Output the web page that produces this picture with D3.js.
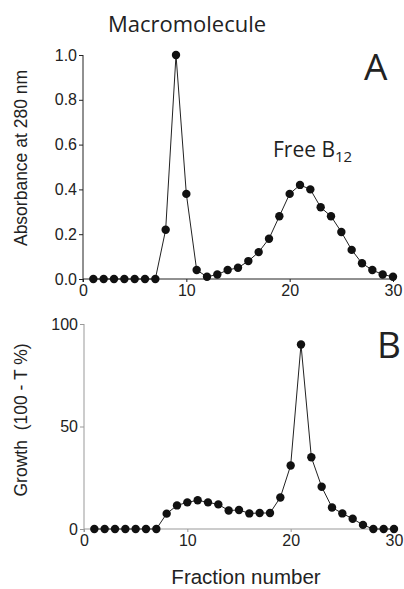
<!DOCTYPE html>
<html>
<head>
<meta charset="utf-8">
<script src="https://cdn.jsdelivr.net/npm/d3@7"></script>
<style>
  body { margin: 0; background: #fff; }
  svg { display: block; }
  .tick text { font-family: "Liberation Sans", Arial, sans-serif; }
</style>
</head>
<body>
<svg id="chart" width="404" height="589"></svg>
<script>
// fraction numbers 1..30
const fractions = [1,2,3,4,5,6,7,8,9,10,11,12,13,14,15,16,17,18,19,20,21,22,23,24,25,26,27,28,29,30];

// Panel A : absorbance at 280 nm
const absorbance = [0,0,0,0,0,0,0,0.22,1.0,0.38,0.04,0.01,0.02,0.04,0.05,0.08,0.12,0.18,0.28,0.38,0.42,0.40,0.32,0.28,0.21,0.13,0.07,0.04,0.02,0.01];

// Panel B : growth (100 - T %)
const growth = [0,0,0,0,0,0,0,7.5,11.5,13,14,13,12,9,9.3,7.6,7.8,7.8,15.4,31,90,35,20.6,10.5,7.6,5,2,0,0,0];

const xTicks = [0,10,20,30];
const yTicksA = [0,0.2,0.4,0.6,0.8,1.0];
const yTicksB = [0,50,100];

const svg = d3.select("#chart");

// draw one panel
function drawPanel(opt) {
  const x = d3.scaleLinear().domain([0,30]).range([opt.left, opt.right]);
  const y = d3.scaleLinear().domain(opt.yDomain).range([opt.bottom, opt.top]);

  const g = svg.append("g");

  // y axis
  const yAxis = g.append("g")
    .attr("transform", `translate(${opt.left},0)`)
    .call(d3.axisLeft(y).tickValues(opt.yTicks).tickFormat(opt.yFormat).tickSize(4).tickPadding(2));
  yAxis.select(".domain").attr("d", `M0,${opt.top}V${opt.bottom + 3}`).attr("stroke", opt.axisColor);
  yAxis.selectAll(".tick line").attr("stroke", opt.axisColor);
  yAxis.selectAll(".tick text").attr("font-size", 16).attr("fill", "#222");

  // x axis
  const xAxis = g.append("g")
    .attr("transform", `translate(0,${opt.bottom})`)
    .call(d3.axisBottom(x).tickValues(xTicks).tickSize(3).tickPadding(3));
  xAxis.select(".domain").attr("d", `M${opt.left},0H${opt.right}`).attr("stroke", opt.axisColor);
  xAxis.selectAll(".tick line").attr("stroke", opt.axisColor);
  xAxis.selectAll(".tick text").attr("font-size", 16).attr("fill", "#222");

  const pts = fractions.map((f, i) => [f, opt.values[i]]);

  g.append("path")
    .datum(pts)
    .attr("fill", "none")
    .attr("stroke", "#222")
    .attr("stroke-width", 1)
    .attr("d", d3.line().x(d => x(d[0])).y(d => y(d[1])));

  g.selectAll("circle")
    .data(pts)
    .join("circle")
    .attr("cx", d => x(d[0]))
    .attr("cy", d => y(d[1]))
    .attr("r", 4.2)
    .attr("fill", "#111");

  // rotated y label
  g.append("text")
    .attr("transform", `translate(27,${opt.labelY}) rotate(-90)`)
    .attr("text-anchor", "middle")
    .attr("font-family", "Liberation Sans, Arial, sans-serif")
    .attr("font-size", 17.5)
    .attr("fill", "#222")
    .attr("xml:space", "preserve")
    .text(opt.yLabel);

  // panel letter
  g.append("text")
    .attr("x", opt.letterX)
    .attr("y", opt.letterY)
    .attr("font-family", "Open Sans, sans-serif")
    .attr("font-size", 37)
    .attr("fill", "#222")
    .text(opt.letter);
}

drawPanel({
  left: 83, right: 393, top: 55, bottom: 279,
  yDomain: [0,1], yTicks: yTicksA, yFormat: d3.format(".1f"),
  values: absorbance, axisColor: "#222",
  yLabel: "Absorbance at 280 nm", labelY: 158,
  letter: "A", letterX: 364, letterY: 80
});

drawPanel({
  left: 84, right: 394, top: 324, bottom: 529,
  yDomain: [0,100], yTicks: yTicksB, yFormat: d3.format("d"),
  values: growth, axisColor: "#999",
  yLabel: "Growth  (100 - T %)", labelY: 420,
  letter: "B", letterX: 377, letterY: 358
});

// annotations
svg.append("text")
  .attr("x", 187).attr("y", 32)
  .attr("text-anchor", "middle")
  .attr("font-family", "Open Sans, sans-serif")
  .attr("font-size", 22)
  .attr("fill", "#222")
  .text("Macromolecule");

const free = svg.append("text")
  .attr("x", 273).attr("y", 157)
  .attr("font-family", "Open Sans, sans-serif")
  .attr("font-size", 21)
  .attr("fill", "#222");
free.append("tspan").text("Free B");
free.append("tspan").attr("font-size", 15).attr("dy", 5).text("12");

svg.append("text")
  .attr("x", 246).attr("y", 584)
  .attr("text-anchor", "middle")
  .attr("font-family", "Liberation Sans, Arial, sans-serif")
  .attr("font-size", 20.5)
  .attr("fill", "#222")
  .text("Fraction number");
</script>
</body>
</html>
